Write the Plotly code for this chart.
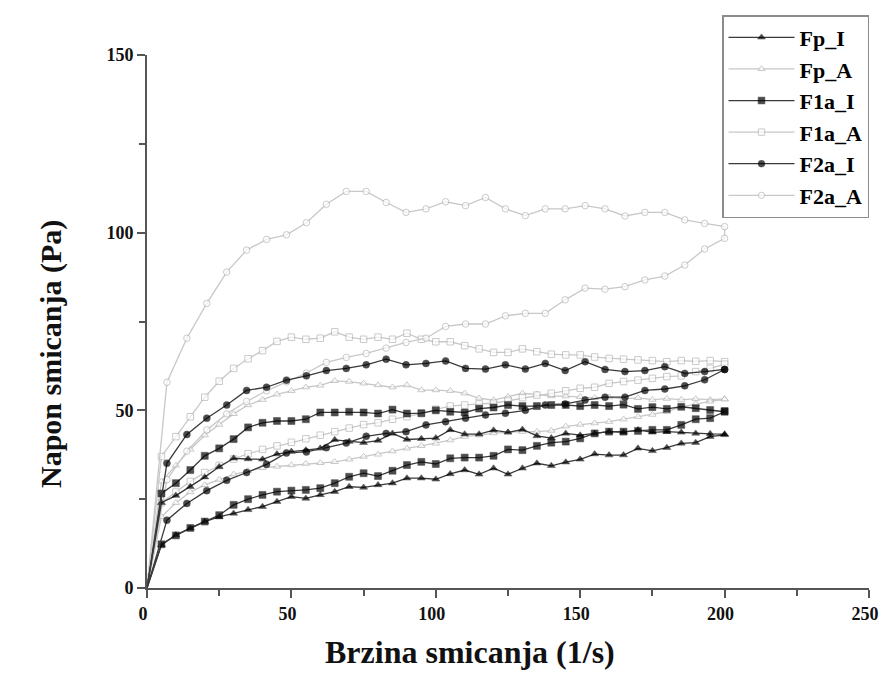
import plotly.graph_objects as go

# shear-rate grids (1/s)
x_grid_a = [5, 10, 15, 20, 25, 30, 35, 40, 45, 50, 55, 60, 65, 70, 75, 80, 85, 90, 95, 100,
            105, 110, 115, 120, 125, 130, 135, 140, 145, 150, 155, 160, 165, 170, 175, 180,
            185, 190, 195, 200]
x_grid_b = [6.9, 13.8, 20.7, 27.6, 34.5, 41.4, 48.3, 55.2, 62.1, 69.0, 75.9, 82.8, 89.7, 96.6,
            103.4, 110.3, 117.2, 124.1, 131.0, 137.9, 144.8, 151.7, 158.6, 165.5, 172.4,
            179.3, 186.2, 193.1, 200.0]

# shear stress (Pa): up-curve and down-curve (down listed in ascending shear rate)
fp_i_up = [24.0, 26.0, 28.5, 31.2, 34.1, 36.5, 36.3, 36.2, 37.7, 38.4, 38.8, 39.3, 41.7, 41.2,
           40.9, 41.5, 43.5, 41.8, 42.0, 42.2, 44.5, 43.3, 43.3, 44.4, 43.8, 44.6, 42.8, 42.2,
           43.5, 43.0, 43.5, 44.0, 43.8, 44.5, 43.8, 44.0, 43.8, 43.5, 43.4, 43.3]
fp_i_down = [12.1, 14.9, 16.8, 18.7, 20.0, 21.0, 22.0, 22.9, 24.3, 25.7, 25.2, 26.2, 27.1, 28.5,
             28.3, 29.0, 29.5, 30.9, 30.9, 30.6, 32.1, 33.2, 32.0, 33.7, 32.0, 33.7, 35.1, 34.4,
             35.4, 36.2, 37.7, 37.4, 37.4, 39.3, 38.6, 39.5, 40.7, 40.9, 42.6, 43.1]

f1a_i_up = [26.6, 29.5, 33.2, 37.2, 39.3, 41.9, 45.2, 46.5, 47.0, 47.0, 47.5, 49.4, 49.4, 49.6,
            49.4, 49.1, 50.2, 49.1, 49.2, 50.0, 49.6, 49.4, 50.5, 50.8, 51.5, 51.2, 51.2, 51.5,
            51.5, 51.2, 51.5, 51.2, 51.6, 50.4, 50.9, 50.4, 51.0, 50.6, 50.1, 49.8]
f1a_i_down = [12.3, 14.8, 16.9, 18.7, 20.5, 23.4, 25.0, 26.2, 27.1, 27.4, 27.6, 28.1, 29.5, 31.3,
              32.3, 31.5, 33.0, 34.6, 35.5, 34.9, 36.5, 36.7, 36.7, 37.2, 39.0, 38.8, 40.0, 40.9,
              41.2, 42.1, 43.5, 44.0, 44.0, 44.2, 44.5, 44.5, 45.9, 47.5, 47.8, 49.6]

f2a_i_up = [35.1, 43.2, 47.8, 51.5, 55.6, 56.5, 58.5, 59.7, 61.2, 61.8, 62.8, 64.4, 62.8, 63.2,
            63.9, 61.8, 61.6, 62.8, 61.6, 63.2, 61.2, 63.7, 61.5, 60.9, 61.2, 62.3, 60.4, 60.9,
            61.5]
f2a_i_down = [19.1, 23.8, 27.4, 30.3, 32.5, 34.8, 38.0, 38.3, 39.5, 40.8, 42.7, 43.5, 44.0, 45.9,
              46.8, 47.8, 48.7, 49.2, 50.0, 51.5, 51.8, 52.9, 53.7, 53.7, 55.6, 56.0, 56.9, 58.6,
              61.5]

fp_a_up = [30.0, 34.5, 39.0, 43.0, 46.0, 49.0, 51.5, 53.0, 54.5, 55.5, 56.5, 57.0, 58.3, 58.1,
           57.6, 57.1, 56.5, 57.1, 55.7, 55.7, 55.5, 54.8, 53.4, 52.9, 53.8, 54.8, 54.5, 54.0,
           54.0, 53.8, 53.5, 53.7, 53.2, 53.5, 53.0, 53.3, 53.0, 53.2, 53.0, 53.2]
fp_a_down = [20.0, 24.0, 27.0, 29.0, 30.5, 32.0, 33.0, 33.8, 34.2, 34.6, 35.0, 35.2, 35.5, 36.2,
             37.0, 37.6, 38.5, 39.3, 40.0, 40.7, 41.6, 42.6, 43.0, 43.6, 43.8, 44.0, 44.0, 44.3,
             45.5, 46.0, 46.4, 46.8, 47.5, 48.2, 48.8, 49.6, 51.0, 51.8, 52.5, 53.1]

f1a_a_up = [37.0, 42.6, 48.2, 53.7, 58.2, 61.8, 64.5, 66.8, 69.4, 70.6, 70.0, 70.3, 72.1, 70.6,
            70.0, 70.6, 70.0, 71.7, 70.0, 69.3, 69.3, 68.2, 67.3, 66.3, 66.3, 67.3, 66.5, 65.8,
            65.6, 65.6, 65.0, 64.6, 64.4, 64.2, 64.0, 63.7, 64.0, 63.8, 64.0, 63.7]
f1a_a_down = [24.0, 27.0, 30.0, 32.5, 34.5, 36.3, 37.8, 39.0, 40.0, 41.0, 42.0, 43.0, 44.0, 45.0,
              46.0, 46.5, 47.5, 48.2, 49.1, 50.3, 51.2, 51.5, 51.8, 52.0, 52.8, 53.6, 54.3, 54.8,
              55.5, 56.2, 56.5, 57.6, 58.1, 58.5, 59.0, 59.5, 59.7, 60.9, 61.8, 63.0]

f2a_a_up = [57.9, 70.3, 80.1, 88.9, 95.1, 98.1, 99.4, 102.8, 108.0, 111.6, 111.6, 108.5, 105.7,
            106.7, 108.7, 107.6, 109.9, 106.7, 104.8, 106.7, 106.7, 107.6, 106.7, 104.7, 105.7,
            105.7, 103.6, 102.6, 101.7]
f2a_a_down = [30.5, 38.5, 44.5, 49.0, 52.5, 55.5, 58.0, 60.5, 63.5, 64.9, 66.0, 67.5, 69.1, 70.3,
              73.6, 74.3, 74.3, 76.6, 77.3, 77.3, 81.1, 84.4, 84.1, 84.8, 86.7, 87.8, 90.9, 95.4,
              98.4]

x_ticks = [0, 50, 100, 150, 200, 250]
y_ticks = [0, 50, 100, 150]

SERIF = "Liberation Serif, Times New Roman, serif"


def loop(xs, up, down):
    x = [0] + xs + xs[::-1] + [0]
    y = [0] + up + down[::-1] + [0]
    return x, y


series = [
    # name, grid, up, down, symbol, is_black, legend rank
    ("Fp_A", x_grid_a, fp_a_up, fp_a_down, "triangle-up", False, 2),
    ("F1a_A", x_grid_a, f1a_a_up, f1a_a_down, "square", False, 4),
    ("F2a_A", x_grid_b, f2a_a_up, f2a_a_down, "circle", False, 6),
    ("Fp_I", x_grid_a, fp_i_up, fp_i_down, "triangle-up", True, 1),
    ("F1a_I", x_grid_a, f1a_i_up, f1a_i_down, "square", True, 3),
    ("F2a_I", x_grid_b, f2a_i_up, f2a_i_down, "circle", True, 5),
]

fig = go.Figure()
for name, grid, up, down, sym, black, rank in series:
    x, y = loop(grid, up, down)
    n = len(x)
    base = 7 if black else 6.5
    sizes = [0] + [base] * (n - 2) + [0]
    if black:
        line = dict(color="#3a3a3a", width=1.3)
        marker = dict(symbol=sym, color="#000000", size=sizes,
                      line=dict(color="#000000", width=0.5))
    else:
        line = dict(color="#c8c8c8", width=1.3)
        marker = dict(symbol=sym, color="#ffffff", size=sizes,
                      line=dict(color="#b4b4b4", width=1))
    fig.add_trace(go.Scatter(x=x, y=y, mode="lines+markers", name=name, legendrank=rank,
                             line=line, marker=marker))

axis_font = dict(family=SERIF, size=18, color="#111111", weight="bold")

fig.update_layout(
    width=871, height=664,
    margin=dict(l=139, r=10, t=47, b=84, autoexpand=False),
    paper_bgcolor="white", plot_bgcolor="white",
    showlegend=True,
    legend=dict(x=1.0, xanchor="right", y=1.075, yanchor="top",
                bgcolor="white", bordercolor="#8c8c8c", borderwidth=1.5,
                font=dict(family=SERIF, size=22, color="#000000", weight="bold"),
                tracegroupgap=0, itemwidth=66),
    xaxis=dict(range=[0, 250], tickvals=x_ticks, automargin=False,
               ticks="outside", ticklen=8, tickwidth=1.5, tickcolor="#555555",
               minor=dict(tickvals=[25, 75, 125, 175, 225], ticks="outside", ticklen=6,
                          tickwidth=1.5, tickcolor="#555555"),
               showline=True, linecolor="#555555", linewidth=2,
               showgrid=False, zeroline=False, tickfont=axis_font,
               ticklabeloverflow="allow", ticklabelshift=-4),
    yaxis=dict(range=[0, 150], tickvals=y_ticks, automargin=False,
               ticks="outside", ticklen=8, tickwidth=1.5, tickcolor="#555555",
               minor=dict(tickvals=[25, 75, 125], ticks="outside", ticklen=6,
                          tickwidth=1.5, tickcolor="#555555"),
               showline=True, linecolor="#555555", linewidth=2,
               showgrid=False, zeroline=False, tickfont=axis_font),
    annotations=[
        dict(text="Brzina smicanja (1/s)", xref="paper", yref="paper", x=0.447, y=-0.1576,
             showarrow=False, xanchor="center", yanchor="bottom",
             font=dict(family=SERIF, size=32, color="#111111", weight="bold")),
        dict(text="Napon smicanja (Pa)", xref="paper", yref="paper", x=-0.133, y=0.439,
             showarrow=False, xanchor="center", yanchor="middle", textangle=-90,
             font=dict(family=SERIF, size=30, color="#111111", weight="bold")),
    ],
)

fig.write_html("out.html")
